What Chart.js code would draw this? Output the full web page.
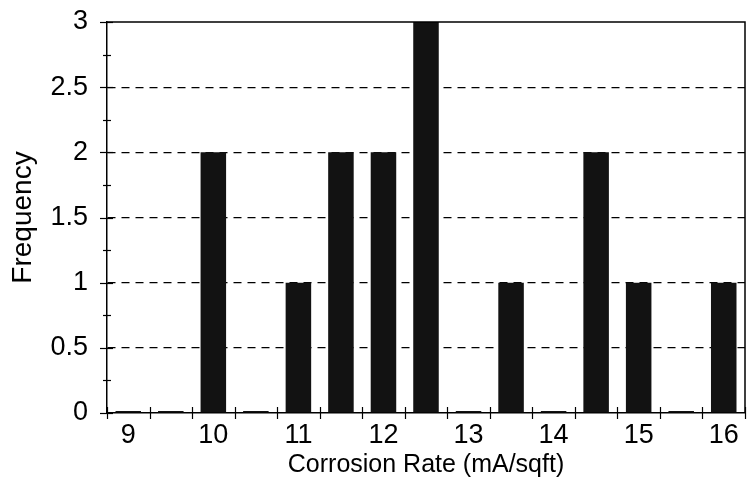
<!DOCTYPE html>
<html>
<head>
<meta charset="utf-8">
<script src="https://cdn.jsdelivr.net/npm/chart.js@4/dist/chart.umd.min.js"></script>
<style>
    html, body { margin: 0; padding: 0; background: #fff; }
    #wrap { width: 747px; height: 480px; }
</style>
</head>
<body>
<div id="wrap"><canvas id="histChart" width="747" height="480"></canvas></div>
<script>
// bins of corrosion rate (mA/sqft), every 0.5
const rateBins = ['9', '9.5', '10', '10.5', '11', '11.5', '12', '12.5', '13', '13.5', '14', '14.5', '15', '15.5', '16'];
const frequency = [0, 0, 2, 0, 1, 2, 2, 3, 0, 1, 0, 2, 1, 0, 1];
const yTicks = [0, 0.5, 1, 1.5, 2, 2.5, 3];

const FONT = '"Liberation Sans", Arial, sans-serif';

// tick marks that cross the axes + solid frame on top / right
const axisMarks = {
    id: 'axisMarks',
    afterDraw(chart) {
        const { ctx, chartArea: a, scales: { x, y } } = chart;
        ctx.save();
        ctx.strokeStyle = '#000';
        ctx.lineWidth = 1.5;
        ctx.beginPath();
        ctx.moveTo(a.left, a.top);
        ctx.lineTo(a.right, a.top);
        ctx.lineTo(a.right, a.bottom);
        ctx.stroke();

        ctx.lineWidth = 1.2;
        // x: between categories
        const half = (x.getPixelForValue(1) - x.getPixelForValue(0)) / 2;
        for (let i = 0; i <= rateBins.length; i++) {
            const px = Math.round(x.getPixelForValue(i) - half) + 0.5;
            ctx.beginPath();
            ctx.moveTo(px, a.bottom - 6);
            ctx.lineTo(px, a.bottom + 6);
            ctx.stroke();
        }
        // y: major + minor
        for (let v = 0; v <= 3.001; v += 0.25) {
            const py = Math.round(y.getPixelForValue(v)) + 0.5;
            const major = Math.abs(v * 2 - Math.round(v * 2)) < 1e-6;
            ctx.beginPath();
            ctx.moveTo(a.left - (major ? 7 : 4), py);
            ctx.lineTo(a.left + (major ? 6 : 4), py);
            ctx.stroke();
        }
        ctx.restore();
    }
};

new Chart(document.getElementById('histChart'), {
    type: 'bar',
    data: {
        labels: rateBins,
        datasets: [{
            data: frequency,
            backgroundColor: '#121212',
            borderWidth: 0,
            barPercentage: 0.6,
            categoryPercentage: 1,
            minBarLength: 2
        }]
    },
    options: {
        responsive: false,
        animation: false,
        events: [],
        layout: { padding: { top: 22, right: 2, left: 0, bottom: 0 } },
        plugins: {
            legend: { display: false },
            tooltip: { enabled: false }
        },
        scales: {
            x: {
                offset: true,
                grid: { display: false, drawTicks: false },
                border: { display: true, color: '#000', width: 1.5 },
                ticks: {
                    autoSkip: false,
                    maxRotation: 0,
                    padding: 6,
                    color: '#000',
                    font: { family: FONT, size: 27 },
                    callback: (val, i) => (i % 2 === 0 ? rateBins[i] : '')
                },
                title: {
                    display: true,
                    text: 'Corrosion Rate (mA/sqft)',
                    color: '#000',
                    font: { family: FONT, size: 25 },
                    padding: { top: 0, bottom: 0 }
                },
                afterFit: s => {
                    s.height = 67;
                    s.paddingLeft = 0;
                    s.paddingRight = 0;
                }
            },
            y: {
                min: 0,
                max: 3,
                afterBuildTicks: s => { s.ticks = yTicks.map(v => ({ value: v })); },
                grid: {
                    drawTicks: false,
                    color: c => (c.tick && (c.tick.value === 0 || c.tick.value === 3)) ? 'rgba(0,0,0,0)' : '#000',
                    lineWidth: 1.3
                },
                border: { display: true, color: '#000', width: 1.5, dash: [8, 6] },
                ticks: {
                    padding: 19,
                    color: '#000',
                    font: { family: FONT, size: 27 },
                    callback: v => String(v)
                },
                title: {
                    display: true,
                    text: 'Frequency',
                    color: '#000',
                    font: { family: FONT, size: 28 },
                    padding: { top: 6, bottom: 0 }
                },
                afterFit: s => {
                    s.width = 107;
                    s.paddingTop = 0;
                    s.paddingBottom = 0;
                }
            }
        }
    },
    plugins: [axisMarks]
});
</script>
</body>
</html>
